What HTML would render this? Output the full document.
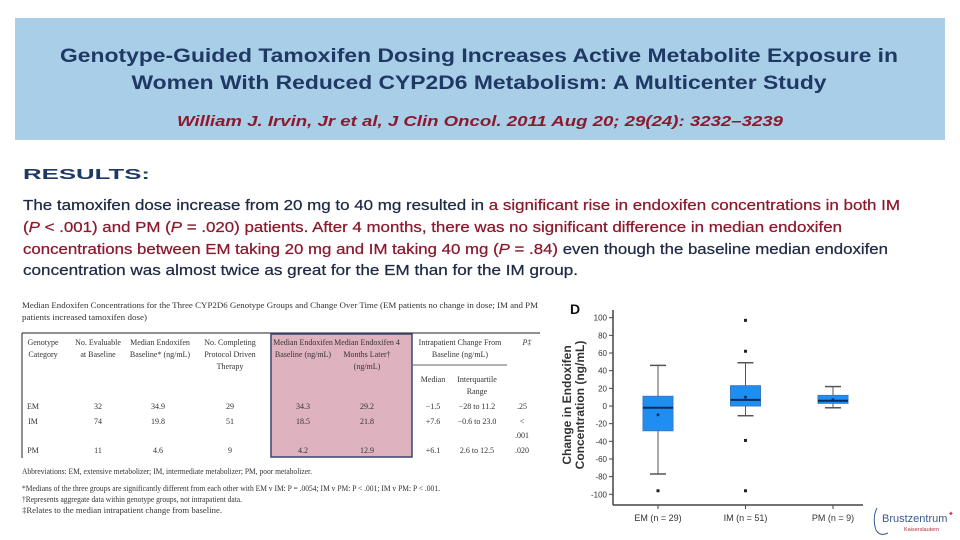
<!DOCTYPE html>
<html><head><meta charset="utf-8"><style>
body{margin:0;background:#fff;}
svg{display:block;font-family:"Liberation Sans",sans-serif;}
.tb{font-family:"Liberation Serif",serif;font-size:8px;fill:#333;}
</style></head><body>
<svg width="960" height="540" viewBox="0 0 960 540">
<rect x="15" y="18" width="930" height="122" fill="#a9cfe8"/>
<g font-weight="bold" font-size="19" fill="#1f3864" text-anchor="middle">
<text x="479" y="62" textLength="838" lengthAdjust="spacingAndGlyphs">Genotype-Guided Tamoxifen Dosing Increases Active Metabolite Exposure in</text>
<text x="479" y="89" textLength="695" lengthAdjust="spacingAndGlyphs">Women With Reduced CYP2D6 Metabolism: A Multicenter Study</text>
</g>
<text x="480" y="126" text-anchor="middle" font-size="15" font-weight="bold" font-style="italic" fill="#8b1a2e" textLength="606" lengthAdjust="spacingAndGlyphs">William J. Irvin, Jr et al, J Clin Oncol. 2011 Aug 20; 29(24): 3232–3239</text>
<text x="23" y="179" font-size="15" font-weight="bold" fill="#1f3864" textLength="127" lengthAdjust="spacingAndGlyphs">RESULTS:</text>
<g font-size="15" fill="#1f2a44" stroke="currentColor" stroke-width="0.25" style="color:#1f2a44">
<text x="23" y="210" textLength="877" lengthAdjust="spacingAndGlyphs">The tamoxifen dose increase from 20 mg to 40 mg resulted in <tspan fill="#8b1a2e" stroke="#8b1a2e">a significant rise in endoxifen concentrations in both IM</tspan></text>
<text x="23" y="232" textLength="819" lengthAdjust="spacingAndGlyphs" fill="#8b1a2e" stroke="#8b1a2e">(<tspan font-style="italic">P</tspan> &lt; .001) and PM (<tspan font-style="italic">P</tspan> = .020) patients. After 4 months, there was no significant difference in median endoxifen</text>
<text x="23" y="254" textLength="865" lengthAdjust="spacingAndGlyphs"><tspan fill="#8b1a2e" stroke="#8b1a2e">concentrations between EM taking 20 mg and IM taking 40 mg (<tspan font-style="italic">P</tspan> = .84)</tspan> even though the baseline median endoxifen</text>
<text x="23" y="275" textLength="555" lengthAdjust="spacingAndGlyphs">concentration was almost twice as great for the EM than for the IM group.</text>
</g>

<g>
<text class="tb" x="22" y="308" textLength="516" lengthAdjust="spacingAndGlyphs">Median Endoxifen Concentrations for the Three CYP2D6 Genotype Groups and Change Over Time (EM patients no change in dose; IM and PM</text>
<text class="tb" x="22" y="320" textLength="125" lengthAdjust="spacingAndGlyphs">patients increased tamoxifen dose)</text>
<line x1="22" y1="333" x2="540" y2="333" stroke="#222" stroke-width="1"/>
<line x1="22" y1="333" x2="22" y2="458" stroke="#222" stroke-width="1"/>
<rect x="271" y="334" width="141" height="123" fill="#dfb2c0" stroke="#3b4470" stroke-width="1.5"/>
<line x1="413" y1="365" x2="507" y2="365" stroke="#333" stroke-width="0.7"/>
<g text-anchor="middle">
<text class="tb" x="43" y="345">Genotype</text><text class="tb" x="43" y="357">Category</text>
<text class="tb" x="98" y="345">No. Evaluable</text><text class="tb" x="98" y="357">at Baseline</text>
<text class="tb" x="160" y="345">Median Endoxifen</text><text class="tb" x="160" y="357">Baseline* (ng/mL)</text>
<text class="tb" x="230" y="345">No. Completing</text><text class="tb" x="230" y="357">Protocol Driven</text><text class="tb" x="230" y="369">Therapy</text>
<text class="tb" x="303" y="345" fill="#7a1a3a">Median Endoxifen</text><text class="tb" x="303" y="357">Baseline (ng/mL)</text>
<text class="tb" x="367" y="345">Median Endoxifen 4</text><text class="tb" x="367" y="357">Months Later†</text><text class="tb" x="367" y="369">(ng/mL)</text>
<text class="tb" x="460" y="345">Intrapatient Change From</text><text class="tb" x="460" y="357">Baseline (ng/mL)</text>
<text class="tb" x="527" y="345" font-style="italic">P‡</text>
<text class="tb" x="433" y="382">Median</text>
<text class="tb" x="477" y="382">Interquartile</text><text class="tb" x="477" y="394">Range</text>
</g>
<g text-anchor="middle">
<text class="tb" x="33" y="409">EM</text><text class="tb" x="98" y="409">32</text><text class="tb" x="158" y="409">34.9</text><text class="tb" x="230" y="409">29</text><text class="tb" x="303" y="409">34.3</text><text class="tb" x="367" y="409">29.2</text><text class="tb" x="433" y="409">−1.5</text><text class="tb" x="477" y="409">−28 to 11.2</text><text class="tb" x="522" y="409">.25</text>
<text class="tb" x="33" y="424">IM</text><text class="tb" x="98" y="424">74</text><text class="tb" x="158" y="424">19.8</text><text class="tb" x="230" y="424">51</text><text class="tb" x="303" y="424">18.5</text><text class="tb" x="367" y="424">21.8</text><text class="tb" x="433" y="424">+7.6</text><text class="tb" x="477" y="424">−0.6 to 23.0</text><text class="tb" x="522" y="424">&lt;</text>
<text class="tb" x="522" y="438">.001</text>
<text class="tb" x="33" y="453">PM</text><text class="tb" x="98" y="453">11</text><text class="tb" x="158" y="453">4.6</text><text class="tb" x="230" y="453">9</text><text class="tb" x="303" y="453">4.2</text><text class="tb" x="367" y="453">12.9</text><text class="tb" x="433" y="453">+6.1</text><text class="tb" x="477" y="453">2.6 to 12.5</text><text class="tb" x="522" y="453">.020</text>
</g>
<text class="tb" x="22" y="474" font-size="6.5" textLength="290" lengthAdjust="spacingAndGlyphs">Abbreviations: EM, extensive metabolizer; IM, intermediate metabolizer; PM, poor metabolizer.</text>
<text class="tb" x="22" y="491" font-size="6.5" textLength="418" lengthAdjust="spacingAndGlyphs">*Medians of the three groups are significantly different from each other with EM v IM: P = .0054; IM v PM: P &lt; .001; IM v PM: P &lt; .001.</text>
<text class="tb" x="22" y="502" font-size="6.5" textLength="220" lengthAdjust="spacingAndGlyphs">†Represents aggregate data within genotype groups, not intrapatient data.</text>
<text class="tb" x="22" y="513" font-size="6.5" textLength="200" lengthAdjust="spacingAndGlyphs">‡Relates to the median intrapatient change from baseline.</text>
</g>

<g id="chart"></g>

<g>
<path d="M877 508 Q872 518 876 530 Q880 537 888 533" fill="none" stroke="#3a5a8c" stroke-width="1"/>
<text x="882" y="522" font-size="11" fill="#3a5a8c">Brustzentrum</text>
<text x="904" y="531" font-size="5.5" fill="#b03040">Kaiserslautern</text>
<text x="948" y="516" font-size="7" fill="#c0303a">✦</text>
</g>
</svg>
<script>
const categories = ["EM (n = 29)", "IM (n = 51)", "PM (n = 9)"];
const whiskerHigh = [46, 49, 22];
const q3 = [11, 23, 12];
const medians = [-2, 7, 6];
const q1 = [-28, 0, 3];
const whiskerLow = [-77, -11, -2];
const means = [-10, 10, 7];
const outliers = [[-96], [97, 62, -39, -96], []];
const yTicks = [100, 80, 60, 40, 20, 0, -20, -40, -60, -80, -100];

const NS = "http://www.w3.org/2000/svg";
const g = document.getElementById("chart");
const x0 = 613, x1 = 863, yTop = 310, yBot = 505;
const y = v => 406 - v * 0.883;
const xc = i => 658 + i * 87.5;
function el(tag, attrs, parent) {
  const e = document.createElementNS(NS, tag);
  for (const k in attrs) e.setAttribute(k, attrs[k]);
  (parent || g).appendChild(e);
  return e;
}
let a = el("line", {x1:x0, y1:yTop, x2:x0, y2:yBot, stroke:"#444", "stroke-width":1.5});


a = el("line", {x1:x0, y1:yBot, x2:x1, y2:yBot, stroke:"#444", "stroke-width":1.5});


yTicks.forEach(t => {
  const tk = el("line", {x1:x0-4, y1:y(t), x2:x0, y2:y(t), stroke:"#444"});
  
  
  const lb = el("text", {x:x0-6, y:y(t)+3, "text-anchor":"end", "font-size":8, fill:"#333"});
  lb.textContent = t;
  
  
});
categories.forEach((c, i) => {
  const cx = xc(i);
  const tk = el("line", {x1:cx, y1:yBot, x2:cx, y2:yBot+4, stroke:"#444"});
  
  
  const lb = el("text", {x:cx, y:yBot+16, "text-anchor":"middle", "font-size":9, fill:"#333"});
  lb.textContent = c;
  
  
  const grp = el("g", {});
  
  
  const w = 15, cw = 8;
  el("line", {x1:cx, y1:y(whiskerHigh[i]), x2:cx, y2:y(q3[i]), stroke:"#555", "stroke-width":1}, grp);
  el("line", {x1:cx, y1:y(q1[i]), x2:cx, y2:y(whiskerLow[i]), stroke:"#555", "stroke-width":1}, grp);
  el("line", {x1:cx-cw, y1:y(whiskerHigh[i]), x2:cx+cw, y2:y(whiskerHigh[i]), stroke:"#555", "stroke-width":1.5}, grp);
  el("line", {x1:cx-cw, y1:y(whiskerLow[i]), x2:cx+cw, y2:y(whiskerLow[i]), stroke:"#555", "stroke-width":1.5}, grp);
  el("rect", {x:cx-w, y:y(q3[i]), width:2*w, height:y(q1[i])-y(q3[i]), fill:"#1e8ef0", stroke:"#3a78c8", "stroke-width":1}, grp);
  el("line", {x1:cx-w, y1:y(medians[i]), x2:cx+w, y2:y(medians[i]), stroke:"#0b2a5c", "stroke-width":2}, grp);
  el("rect", {x:cx-1.3, y:y(means[i])-1.3, width:2.6, height:2.6, fill:"#0b2a5c"}, grp);
  outliers[i].forEach(o => {
    const p = el("rect", {x:cx-1.5, y:y(o)-1.5, width:3, height:3, fill:"#222"}, grp);
    
    
  });
});
const d = el("text", {x:570, y:314, "font-size":14, "font-weight":"bold", fill:"#111"});
d.textContent = "D";


const yt = el("text", {transform:"translate(571,405) rotate(-90)", "text-anchor":"middle", "font-size":12, "font-weight":"bold", fill:"#333"});


const t1 = el("tspan", {x:0, y:0}, yt); t1.textContent = "Change in Endoxifen";
const t2 = el("tspan", {x:0, y:13}, yt); t2.textContent = "Concentration (ng/mL)";
</script>
</body></html>
